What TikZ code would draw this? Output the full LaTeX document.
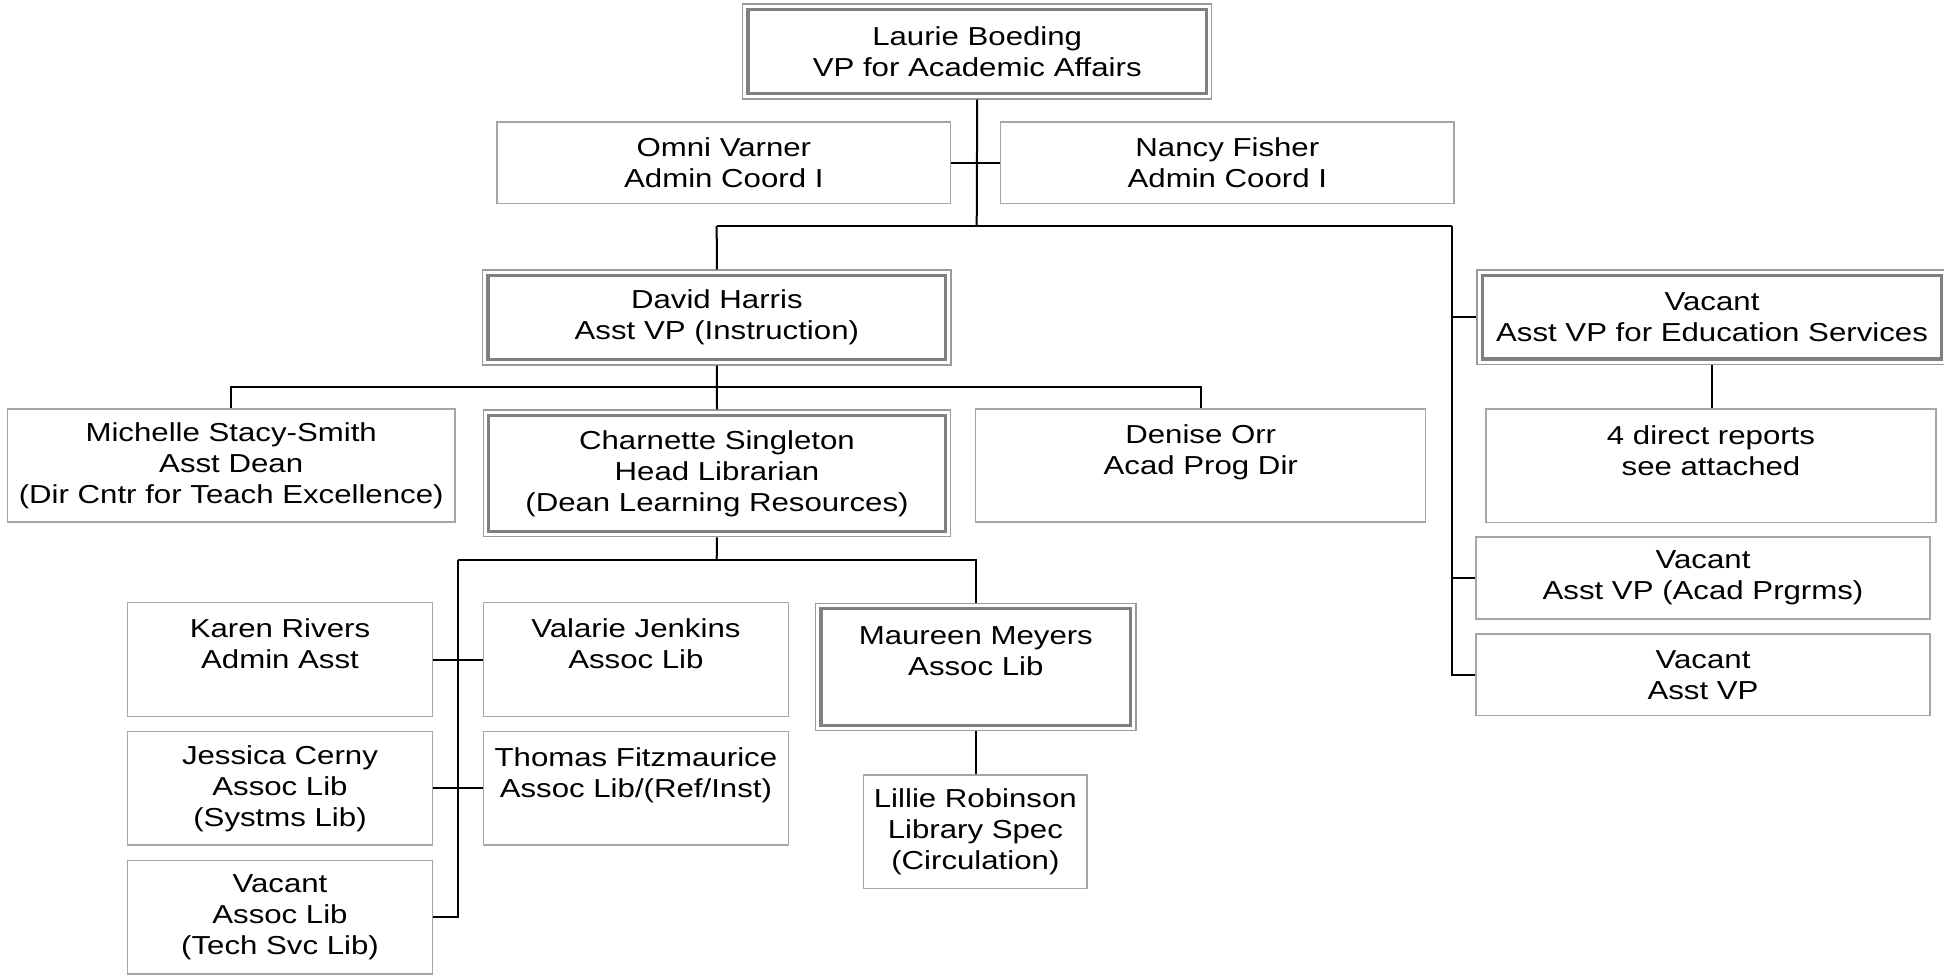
\documentclass[tikz,border=0pt]{standalone}
\usepackage{fontspec}
\newfontfamily\boxfont[FakeStretch=1.2]{Liberation Sans}
\definecolor{boxgray}{HTML}{A6A6A6}
\definecolor{dblgray}{HTML}{9A9A9A}
\definecolor{innergray}{HTML}{808080}
\newcommand\bx[7]{\node[#6,minimum width={(#4-#2)*0.5pt},minimum height={(#5-#3)*0.5pt}] (#1) at ({(#2+#4)/2},{(#3+#5)/2}) {#7};}
\begin{document}
\begin{tikzpicture}[x=0.5pt,y=-0.5pt,
  box/.style={draw=boxgray,line width=0.6pt,inner sep=0pt,align=center,
    font=\boxfont\fontsize{13}{15.5}\selectfont,text=black},
  dbox/.style={box,draw=dblgray},
  innerframe/.style={draw=innergray,line width=1.65pt},
  link/.style={draw=black,line width=1pt}]
\useasboundingbox (0,0) rectangle (1944,976);
% boxes
\bx{laurie}{742.7}{4}{1211.7}{99}{dbox}{Laurie Boeding\\VP for Academic Affairs}
\bx{omni}{497}{122}{950.7}{203.3}{box}{Omni Varner\\Admin Coord I}
\bx{nancy}{1000.7}{122}{1454}{203.3}{box}{Nancy Fisher\\Admin Coord I}
\bx{david}{482.7}{270}{951}{365}{dbox}{David Harris\\Asst VP (Instruction)}
\bx{vedu}{1477}{270}{1947}{364.3}{dbox}{Vacant\\Asst VP for Education Services}
\bx{michelle}{7.4}{409}{455}{522}{box}{Michelle Stacy-Smith\\Asst Dean\\(Dir Cntr for Teach Excellence)}
\bx{charnette}{483.3}{410}{950.7}{536.7}{dbox}{Charnette Singleton\\Head Librarian\\(Dean Learning Resources)}
\bx{denise}{975.7}{409}{1425.8}{522}{box}{Denise Orr\\Acad Prog Dir\\\mbox{}}
\bx{direct}{1486}{409}{1936}{522.7}{box}{4 direct reports\\see attached\\\mbox{}}
\bx{vacad}{1476}{537}{1930}{619}{box}{Vacant\\Asst VP (Acad Prgrms)}
\bx{vvp}{1476}{634}{1930}{715.4}{box}{Vacant\\Asst VP}
\bx{karen}{127.3}{602.3}{432.7}{716.7}{box}{Karen Rivers\\Admin Asst\\\mbox{}}
\bx{valarie}{483.3}{602.3}{788.5}{716.7}{box}{Valarie Jenkins\\Assoc Lib\\\mbox{}}
\bx{maureen}{815.7}{603.3}{1136}{730.7}{dbox}{Maureen Meyers\\Assoc Lib\\\mbox{}}
\bx{jessica}{127.3}{731.7}{432.7}{845}{box}{Jessica Cerny\\Assoc Lib\\(Systms Lib)}
\bx{thomas}{483.3}{731.7}{788.5}{845}{box}{Thomas Fitzmaurice\\Assoc Lib/(Ref/Inst)\\\mbox{}}
\bx{lillie}{863.7}{775}{1087}{888.3}{box}{Lillie Robinson\\Library Spec\\(Circulation)}
\bx{vtech}{127.3}{860.7}{432.7}{974}{box}{Vacant\\Assoc Lib\\(Tech Svc Lib)}
% inner frames of double boxes
\foreach \n in {laurie,david,vedu,charnette,maureen}
  \draw[innerframe] ([shift={(3pt,-3pt)}]\n.north west) rectangle ([shift={(-3pt,3pt)}]\n.south east);
% junctions
\coordinate (b1) at (976.7,226);
\coordinate (bl) at (716.7,226);
\coordinate (br) at (1451.7,226);
\coordinate (b2) at (716.7,387.3);
\coordinate (b3) at (716.7,559.5);
\coordinate (lb) at (458.3,559.5);
% connectors
\draw[link] (laurie.south) -- (b1);
\draw[link] (omni.east) -- (nancy.west);
\draw[link] (bl) -- (br);
\draw[link] (bl) -- (david.north);
\draw[link] (br) |- (vvp.west);
\draw[link] (br |- vedu.west) -- (vedu.west);
\draw[link] (br |- vacad.west) -- (vacad.west);
\draw[link] (vedu.south) -- (vedu.south |- direct.north);
\draw[link] (david.south) -- (charnette.north);
\draw[link] (michelle.north) |- (b2) -| (denise.north);
\draw[link] (charnette.south) -- (b3);
\draw[link] (lb) -- (b3) -| (maureen.north);
\draw[link] (lb) |- (vtech.east);
\draw[link] (karen.east) -- (valarie.west);
\draw[link] (jessica.east) -- (thomas.west);
\draw[link] (maureen.south) -- (maureen.south |- lillie.north);
\end{tikzpicture}
\end{document}
